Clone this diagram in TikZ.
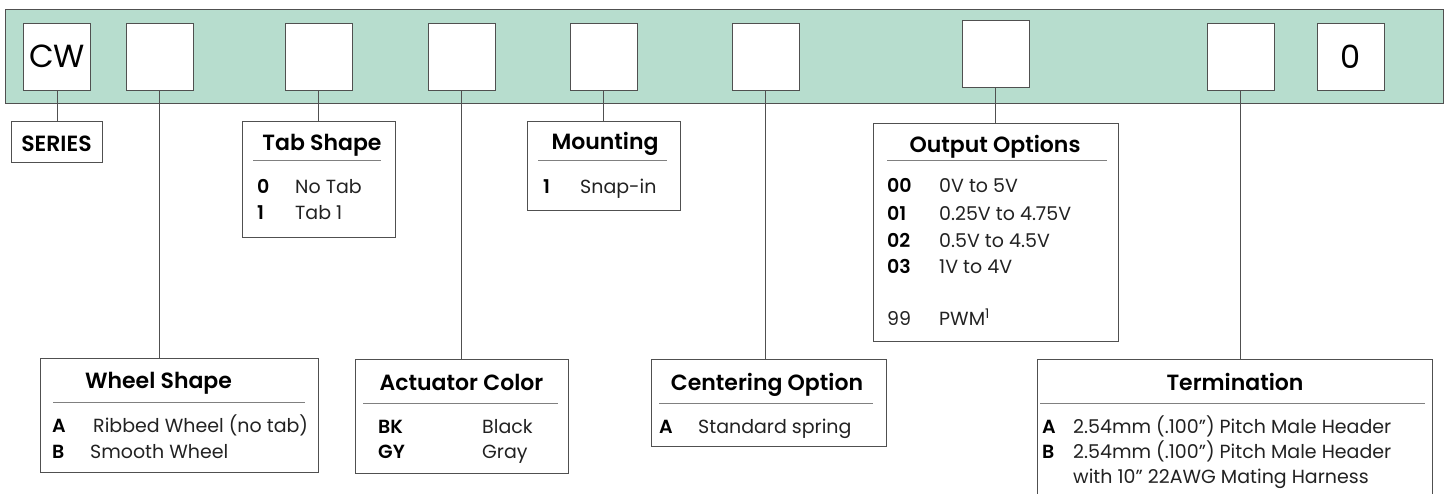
\documentclass[tikz,border=0pt]{standalone}
\usepackage{fontspec}
\setmainfont{Poppins}[BoldFont={Poppins SemiBold}]
\definecolor{band}{HTML}{B7DDCE}
\definecolor{edge}{HTML}{505050}
\definecolor{rulec}{HTML}{808080}
\definecolor{txt}{HTML}{222222}
\tikzset{
  codebox/.style={draw=edge, fill=white, minimum width=67pt, minimum height=67pt, inner sep=0pt, line width=0.9pt, font=\fontsize{32}{32}\selectfont},
  dbox/.style={draw=edge, fill=white, inner sep=0pt, anchor=north west, line width=0.9pt},
  ttl/.style={font=\bfseries\fontsize{22}{22}\selectfont, anchor=base, inner sep=0pt},
  keyt/.style={font=\bfseries\fontsize{19}{19}\selectfont, anchor=base west, inner sep=0pt},
  valt/.style={font=\fontsize{19}{19}\selectfont, text=txt, anchor=base west, inner sep=0pt},
  hrule/.style={draw=rulec, line width=1pt},
  wire/.style={draw=edge, line width=0.9pt}
}
\begin{document}
\begin{tikzpicture}[x=1pt,y=-1pt]
\useasboundingbox (0,0) rectangle (1448,493);
% band
\node[draw=edge, fill=band, minimum width=1438pt, minimum height=94pt, anchor=north west, inner sep=0pt, line width=0.9pt] (band) at (5,9) {};
% code boxes
\node[codebox] (c1) at (57,56.5) {CW};
\node[codebox] (c2) at (159.5,56.5) {};
\node[codebox] (c3) at (318.5,56.5) {};
\node[codebox] (c4) at (461.5,56.5) {};
\node[codebox] (c5) at (603.5,56.5) {};
\node[codebox] (c6) at (765.5,56.5) {};
\node[codebox] (c7) at (995.5,54) {};
\node[codebox] (c8) at (1240.5,56.5) {};
\node[codebox] (c9) at (1350.5,56.5) {0};
% description boxes
\node[dbox, minimum width=91pt, minimum height=41pt] (series) at (11,121) {};
\node[dbox, minimum width=153pt, minimum height=116pt] (tab) at (242,121) {};
\node[dbox, minimum width=153pt, minimum height=89pt] (mount) at (527,121) {};
\node[dbox, minimum width=245pt, minimum height=218pt] (output) at (873,123) {};
\node[dbox, minimum width=278pt, minimum height=114pt] (wheel) at (40,358) {};
\node[dbox, minimum width=213pt, minimum height=114pt] (actuator) at (355,359) {};
\node[dbox, minimum width=235pt, minimum height=87pt] (centering) at (651,359) {};
\begin{scope}
\clip (0,0) rectangle (1448,493);
\node[dbox, minimum width=395pt, minimum height=200pt] (term) at (1037,359) {};
\end{scope}
% connectors
\draw[wire] (c1.south) -- (c1.south |- series.north);
\draw[wire] (c2.south) -- (c2.south |- wheel.north);
\draw[wire] (c3.south) -- (c3.south |- tab.north);
\draw[wire] (c4.south) -- (c4.south |- actuator.north);
\draw[wire] (c5.south) -- (c5.south |- mount.north);
\draw[wire] (c6.south) -- (c6.south |- centering.north);
\draw[wire] (c7.south) -- (c7.south |- output.north);
\draw[wire] (c8.south) -- (c8.south |- term.north);
% series
\node[ttl] (seriest) at (56.5,151) {SERIES};
% tab shape
\node[ttl] (tabt) at (322,150) {Tab Shape};
\draw[hrule] (253,160) -- (381,160);
\node[keyt] (tabk0) at (257,193) {0};
\node[valt] (tabv0) at (295,193) {No Tab};
\node[keyt] (tabk1) at (257,219) {1};
\node[valt] (tabv1) at (295,219) {Tab 1};
% mounting
\node[ttl] (mountt) at (605,149) {Mounting};
\draw[hrule] (538,160) -- (667,160);
\node[keyt] (mountk1) at (543,193) {1};
\node[valt] (mountv1) at (580,193) {Snap-in};
% output options
\node[ttl] (outt) at (995,152) {Output Options};
\draw[hrule] (887,160) -- (1107,160);
\node[keyt] (outk0) at (887,192) {00};
\node[valt] (outv0) at (939,192) {0V to 5V};
\node[keyt] (outk1) at (887,220) {01};
\node[valt] (outv1) at (939,220) {0.25V to 4.75V};
\node[keyt] (outk2) at (887,247) {02};
\node[valt] (outv2) at (939,247) {0.5V to 4.5V};
\node[keyt] (outk3) at (887,273) {03};
\node[valt] (outv3) at (939,273) {1V to 4V};
\node[valt] (outk9) at (887,325) {99};
\node[valt] (outv9) at (939,325) {PWM\textsuperscript{1}};
% wheel shape
\node[ttl] (wheelt) at (158.5,388) {Wheel Shape};
\draw[hrule] (53,402) -- (305,402);
\node[keyt] (wheelka) at (52,432) {A};
\node[valt] (wheelva) at (93,432) {Ribbed Wheel (no tab)};
\node[keyt] (wheelkb) at (52,458) {B};
\node[valt] (wheelvb) at (90,458) {Smooth Wheel};
% actuator color
\node[ttl] (actt) at (461.5,390) {Actuator Color};
\draw[hrule] (363,403) -- (558,403);
\node[keyt] (actk1) at (378,433) {BK};
\node[valt] (actv1) at (482,433) {Black};
\node[keyt] (actk2) at (378,458) {GY};
\node[valt] (actv2) at (482,458) {Gray};
% centering option
\node[ttl] (centt) at (767,390) {Centering Option};
\draw[hrule] (659,403) -- (873,403);
\node[keyt] (centk) at (659,433) {A};
\node[valt] (centv) at (698,433) {Standard spring};
% termination
\node[ttl] (termt) at (1235,390) {Termination};
\draw[hrule] (1040,403) -- (1425,403);
\node[keyt] (termka) at (1042,433) {A};
\node[valt] (termva) at (1073,433) {2.54mm (.100”) Pitch Male Header};
\node[keyt] (termkb) at (1042,458) {B};
\node[valt] (termvb) at (1073,458) {2.54mm (.100”) Pitch Male Header};
\node[valt] (termvc) at (1073,483) {with 10” 22AWG Mating Harness};
\end{tikzpicture}
\end{document}
